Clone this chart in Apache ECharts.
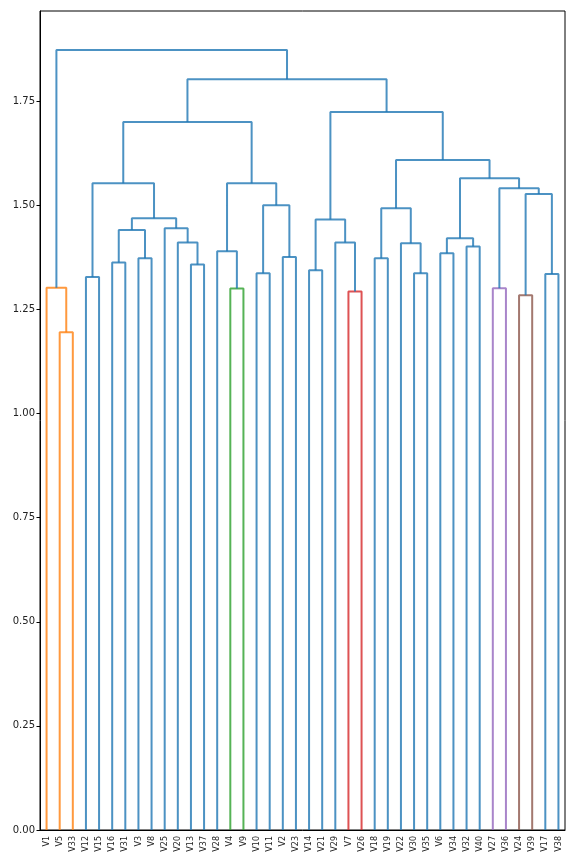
<!DOCTYPE html>
<html>
<head>
    <meta charset="utf-8">
    <title>Dendrogram</title>
    <script src="https://cdn.jsdelivr.net/npm/echarts@6/dist/echarts.min.js"></script>
    <style>
        html, body { margin: 0; padding: 0; background: #fff; }
        #chart { width: 576px; height: 864px; }
    </style>
</head>
<body>
    <div id="chart"></div>
    <script type="text/javascript">
        // leaf order, left to right
        var leaves = ['V1', 'V5', 'V33', 'V12', 'V15', 'V16', 'V31', 'V3', 'V8', 'V25',
            'V20', 'V13', 'V37', 'V28', 'V4', 'V9', 'V10', 'V11', 'V2', 'V23',
            'V14', 'V21', 'V29', 'V7', 'V26', 'V18', 'V19', 'V22', 'V30', 'V35',
            'V6', 'V34', 'V32', 'V40', 'V27', 'V36', 'V24', 'V39', 'V17', 'V38'];

        // merges: [name, left child, right child, height, cluster]
        var merges = [
            ['a1', 'V5', 'V33', 1.195, 'c1'],
            ['a2', 'V1', 'a1', 1.302, 'c1'],
            ['b1', 'V12', 'V15', 1.328, 'c0'],
            ['b2', 'V16', 'V31', 1.363, 'c0'],
            ['b3', 'V3', 'V8', 1.373, 'c0'],
            ['b4', 'b2', 'b3', 1.441, 'c0'],
            ['b5', 'V13', 'V37', 1.358, 'c0'],
            ['b6', 'V20', 'b5', 1.411, 'c0'],
            ['b7', 'V25', 'b6', 1.445, 'c0'],
            ['b8', 'b4', 'b7', 1.469, 'c0'],
            ['b9', 'b1', 'b8', 1.553, 'c0'],
            ['c1', 'V4', 'V9', 1.300, 'c2'],
            ['c2', 'V28', 'c1', 1.390, 'c0'],
            ['c3', 'V10', 'V11', 1.337, 'c0'],
            ['c4', 'V2', 'V23', 1.376, 'c0'],
            ['c5', 'c3', 'c4', 1.500, 'c0'],
            ['c6', 'c2', 'c5', 1.553, 'c0'],
            ['L', 'b9', 'c6', 1.700, 'c0'],
            ['d1', 'V14', 'V21', 1.344, 'c0'],
            ['d2', 'V7', 'V26', 1.293, 'c3'],
            ['d3', 'V29', 'd2', 1.411, 'c0'],
            ['d4', 'd1', 'd3', 1.466, 'c0'],
            ['e1', 'V18', 'V19', 1.373, 'c0'],
            ['e2', 'V30', 'V35', 1.337, 'c0'],
            ['e3', 'V22', 'e2', 1.409, 'c0'],
            ['e4', 'e1', 'e3', 1.493, 'c0'],
            ['f1', 'V6', 'V34', 1.385, 'c0'],
            ['f2', 'V32', 'V40', 1.401, 'c0'],
            ['f3', 'f1', 'f2', 1.421, 'c0'],
            ['g1', 'V27', 'V36', 1.301, 'c4'],
            ['g2', 'V24', 'V39', 1.284, 'c5'],
            ['g3', 'V17', 'V38', 1.335, 'c0'],
            ['g4', 'g2', 'g3', 1.527, 'c0'],
            ['g5', 'g1', 'g4', 1.541, 'c0'],
            ['g6', 'f3', 'g5', 1.565, 'c0'],
            ['h1', 'e4', 'g6', 1.609, 'c0'],
            ['R', 'd4', 'h1', 1.724, 'c0'],
            ['T', 'L', 'R', 1.803, 'c0'],
            ['root', 'a2', 'T', 1.873, 'c0']
        ];

        var yTicks = [0, 0.25, 0.5, 0.75, 1.0, 1.25, 1.5, 1.75];

        var clusterColors = {
            c0: '#1f77b4', c1: '#ff7f0e', c2: '#2ca02c',
            c3: '#d62728', c4: '#9467bd', c5: '#8c564b'
        };

        // node positions: leaves at 5, 15, 25 ... (scipy style)
        var pos = {};
        leaves.forEach(function (name, i) {
            pos[name] = { x: 5 + 10 * i, y: 0 };
        });

        var series = [];
        merges.forEach(function (m) {
            var a = pos[m[1]], b = pos[m[2]], h = m[3];
            pos[m[0]] = { x: (a.x + b.x) / 2, y: h };
            series.push({
                type: 'line',
                xAxisIndex: 1,
                data: [[a.x, a.y], [a.x, h], [b.x, h], [b.x, b.y]],
                showSymbol: false,
                symbol: 'none',
                silent: true,
                lineStyle: { color: clusterColors[m[4]], width: 2, opacity: 0.8 }
            });
        });

        var maxH = 0;
        merges.forEach(function (m) { if (m[3] > maxH) maxH = m[3]; });

        var chart = echarts.init(document.getElementById('chart'));
        var option = {
            animation: false,
            backgroundColor: '#fff',
            grid: {
                left: 40,
                right: 11,
                top: 11,
                bottom: 34,
                show: true,
                borderColor: '#000',
                borderWidth: 1,
                containLabel: false
            },
            xAxis: [
                {
                    type: 'category',
                    data: leaves,
                    boundaryGap: true,
                    position: 'bottom',
                    axisLine: { show: true, lineStyle: { color: '#000', width: 1 } },
                    axisTick: { show: false },
                    axisLabel: {
                        rotate: 90,
                        interval: 0,
                        fontSize: 8,
                        margin: 6,
                        color: '#222',
                        fontFamily: 'DejaVu Sans'
                    },
                    splitLine: { show: false }
                },
                {
                    type: 'value',
                    min: 0,
                    max: leaves.length * 10,
                    show: false,
                    splitLine: { show: false }
                }
            ],
            yAxis: {
                type: 'value',
                min: 0,
                max: maxH * 1.05,
                axisLine: { show: true, lineStyle: { color: '#000', width: 1 } },
                axisTick: {
                    show: true,
                    length: 3.5,
                    customValues: yTicks,
                    lineStyle: { color: '#000', width: 1 }
                },
                axisLabel: {
                    customValues: yTicks,
                    fontSize: 10,
                    margin: 5,
                    color: '#222',
                    fontFamily: 'DejaVu Sans',
                    formatter: function (v) { return v.toFixed(2); }
                },
                splitLine: { show: false }
            },
            series: series
        };
        chart.setOption(option);
    </script>
</body>
</html>
